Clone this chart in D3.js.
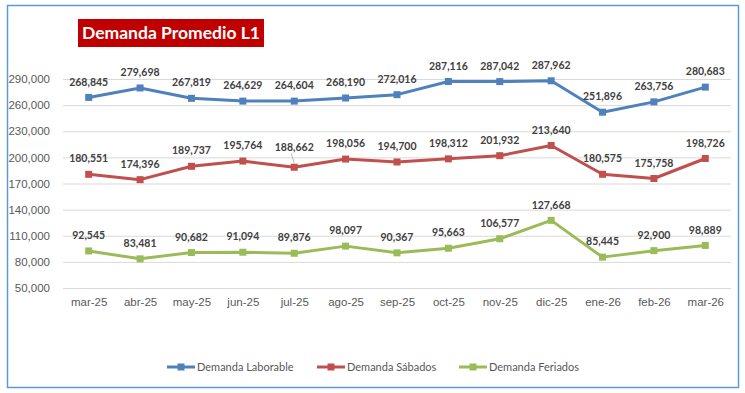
<!DOCTYPE html>
<html>
<head>
<meta charset="utf-8">
<script src="https://cdn.jsdelivr.net/npm/d3@7"></script>
<style>
  html, body { margin: 0; padding: 0; background: #fff; }
  svg { display: block; font-family: Lato, "Open Sans", sans-serif; }
</style>
</head>
<body>
<svg id="chart" width="745" height="393"></svg>
<script>
// --- DATA ---
const months = ["mar-25", "abr-25", "may-25", "jun-25", "jul-25", "ago-25", "sep-25",
                "oct-25", "nov-25", "dic-25", "ene-26", "feb-26", "mar-26"];
const laborable = [268845, 279698, 267819, 264629, 264604, 268190, 272016,
                   287116, 287042, 287962, 251896, 263756, 280683];
const sabados = [180551, 174396, 189737, 195764, 188662, 198056, 194700,
                 198312, 201932, 213640, 180575, 175758, 198726];
const feriados = [92545, 83481, 90682, 91094, 89876, 98097, 90367,
                  95663, 106577, 127668, 85445, 92900, 98889];
const yTicks = [50000, 80000, 110000, 140000, 170000, 200000, 230000, 260000, 290000];
const seriesNames = ["Demanda Laborable", "Demanda Sábados", "Demanda Feriados"];

const SERIES_COLORS = {
    "Demanda Laborable": "#4F81BD",
    "Demanda Sábados": "#C0504D",
    "Demanda Feriados": "#9BBB59",
};

function renderChart() {
    const width = 745, height = 393;
    const marginTop = 79, marginBottom = 105, marginLeft = 63, marginRight = 14;

    const fmt = d3.format(",");
    const svg = d3.select("#chart");
    svg.selectAll("*").remove();

    // chart frame
    svg.append("rect")
        .attr("x", 7.5).attr("y", 5.5)
        .attr("width", 731).attr("height", 382)
        .attr("fill", "white")
        .attr("stroke", "#5B9BD5")
        .attr("stroke-width", 1.5);

    const x = d3.scalePoint()
        .domain(months)
        .range([marginLeft, width - marginRight])
        .padding(0.5);

    const y = d3.scaleLinear()
        .domain([d3.min(yTicks), d3.max(yTicks)])
        .range([height - marginBottom, marginTop]);

    // gridlines + y labels
    svg.append("g")
        .attr("transform", `translate(${marginLeft},0)`)
        .call(d3.axisLeft(y).tickValues(yTicks).tickFormat(fmt).tickSize(0).tickPadding(13))
        .call(g => g.select(".domain").remove())
        .call(g => g.selectAll(".tick line").clone()
            .attr("x2", width - marginLeft - marginRight)
            .attr("stroke", "#D9D9D9")
            .attr("stroke-width", 1))
        .call(g => g.selectAll(".tick text")
            .attr("fill", "#595959")
            .attr("font-size", 11.5));

    // x labels
    svg.append("g")
        .attr("transform", `translate(0,${height - marginBottom})`)
        .call(d3.axisBottom(x).tickSize(0).tickPadding(10))
        .call(g => g.select(".domain").remove())
        .call(g => g.selectAll(".tick text")
            .attr("fill", "#595959")
            .attr("font-size", 11.5));

    const groups = [
        [seriesNames[0], laborable],
        [seriesNames[1], sabados],
        [seriesNames[2], feriados],
    ];

    const line = d3.line()
        .x((d, i) => x(months[i]))
        .y(d => y(d));

    const seriesG = svg.append("g")
        .selectAll("g")
        .data(groups)
        .join("g");

    seriesG.append("path")
        .attr("fill", "none")
        .attr("stroke", g => SERIES_COLORS[g[0]])
        .attr("stroke-width", 3)
        .attr("stroke-linejoin", "round")
        .attr("d", g => line(g[1]));

    seriesG.selectAll("rect")
        .data(g => g[1].map((v, i) => ({v, i, name: g[0]})))
        .join("rect")
            .attr("x", d => x(months[d.i]) - 3.5)
            .attr("y", d => y(d.v) - 3.5)
            .attr("width", 7)
            .attr("height", 7)
            .attr("fill", d => SERIES_COLORS[d.name]);

    // one label was nudged up with a leader line in the original
    const isMoved = d => d.name === "Demanda Sábados" && months[d.i] === "jul-25";

    seriesG.selectAll("line.leader")
        .data(g => g[1].map((v, i) => ({v, i, name: g[0]})).filter(isMoved))
        .join("line")
            .attr("class", "leader")
            .attr("x1", d => x(months[d.i]) - 3)
            .attr("x2", d => x(months[d.i]))
            .attr("y1", d => y(d.v) - 14)
            .attr("y2", d => y(d.v) - 4)
            .attr("stroke", "#A6A6A6")
            .attr("stroke-width", 0.75);

    seriesG.selectAll("text")
        .data(g => g[1].map((v, i) => ({v, i, name: g[0]})))
        .join("text")
            .attr("x", d => x(months[d.i]))
            .attr("y", d => y(d.v) - (isMoved(d) ? 20 : 15.5))
            .attr("dy", "0.35em")
            .attr("text-anchor", "middle")
            .attr("font-size", 10.5)
            .attr("font-weight", "bold")
            .attr("fill", "#404040")
            .text(d => fmt(d.v));

    // title
    const title = svg.append("g");
    title.append("rect")
        .attr("x", 78).attr("y", 19)
        .attr("width", 186).attr("height", 28)
        .attr("fill", "#C00000");
    title.append("text")
        .attr("x", 171).attr("y", 33)
        .attr("dy", "0.35em")
        .attr("text-anchor", "middle")
        .attr("fill", "white")
        .attr("font-size", 17.5)
        .attr("font-weight", "bold")
        .text("Demanda Promedio L1");

    // legend
    const legendX = [167, 317, 459];
    const legend = svg.append("g")
        .selectAll("g")
        .data(seriesNames)
        .join("g")
            .attr("transform", (d, i) => `translate(${legendX[i]},367)`);
    legend.append("line")
        .attr("x1", 0).attr("x2", 28)
        .attr("stroke", d => SERIES_COLORS[d])
        .attr("stroke-width", 3);
    legend.append("rect")
        .attr("x", 10.5).attr("y", -3.5)
        .attr("width", 7).attr("height", 7)
        .attr("fill", d => SERIES_COLORS[d]);
    legend.append("text")
        .attr("x", 30)
        .attr("dy", "0.35em")
        .attr("font-size", 11)
        .attr("fill", "#595959")
        .text(d => d);

    return svg.node();
}

renderChart();
</script>
</body>
</html>
